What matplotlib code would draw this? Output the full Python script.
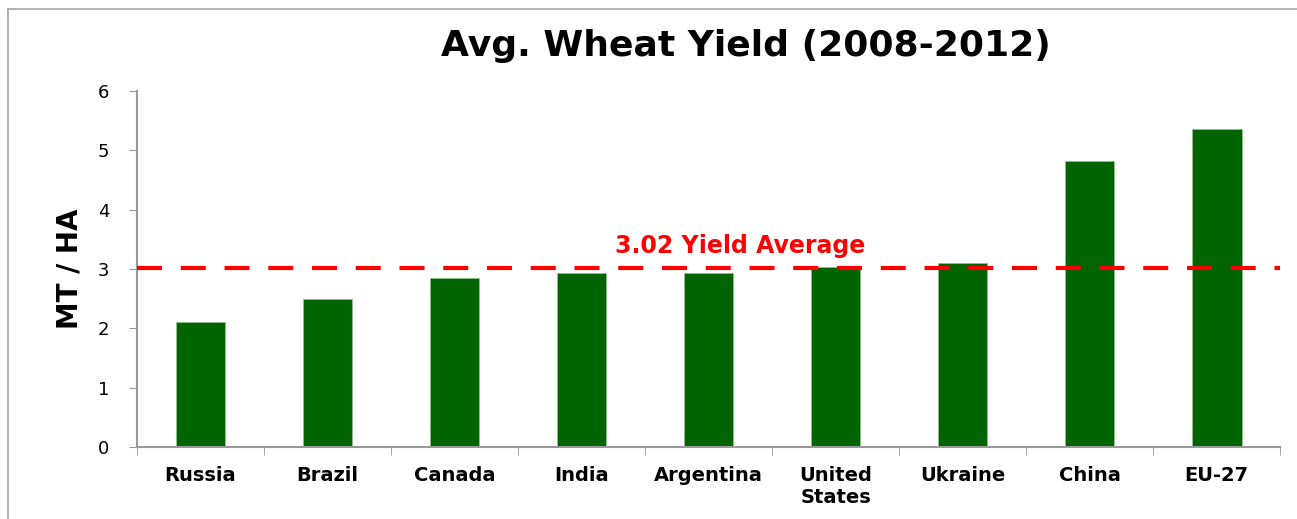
import numpy as np
import matplotlib.pyplot as plt
from matplotlib.lines import Line2D

countries = ["Russia", "Brazil", "Canada", "India", "Argentina",
             "United\nStates", "Ukraine", "China", "EU-27"]
yields = [2.11, 2.50, 2.85, 2.93, 2.93, 3.03, 3.10, 4.82, 5.36]
avg_yield = 3.02
avg_label = "3.02 Yield Average"

plt.rcParams['font.family'] = ['DejaVu Sans']

fig = plt.figure(figsize=(12.97, 5.19), dpi=100)
ax = fig.add_axes([0.1056, 0.1387, 0.8815, 0.686])

x = np.arange(len(countries))
ax.bar(x, yields, width=0.39, color='#006400', edgecolor='#8fbf8f', linewidth=0.6, zorder=2)
ax.axhline(avg_yield, color='#ff0000', lw=3, linestyle=(0, (6, 4.5)), zorder=3)
ax.text(4.25, avg_yield + 0.17, avg_label, color='#ff0000', fontsize=17,
        fontweight='bold', ha='center', va='bottom')

ax.set_xlim(-0.5, len(countries) - 0.5)
ax.set_ylim(0, 6)
ax.set_yticks(range(7))
ax.set_xticks(x)
ax.set_xticklabels(countries, fontsize=14, fontweight='bold', linespacing=1.15)
ax.set_xticks(np.arange(-0.5, len(countries)), minor=True)
ax.tick_params(axis='x', which='major', length=0, pad=14)
ax.tick_params(axis='x', which='minor', length=6, color='#999999', direction='out')
ax.tick_params(axis='y', length=6, color='#999999', labelsize=13, pad=14)

for s in ['top', 'right']:
    ax.spines[s].set_visible(False)
for s in ['left', 'bottom']:
    ax.spines[s].set_color('#999999')
    ax.spines[s].set_linewidth(1.5)

ax.set_ylabel("MT / HA", fontsize=20, fontweight='bold', labelpad=10)
fig.text(0.575, 0.912, "Avg. Wheat Yield (2008-2012)", fontsize=26,
         fontweight='bold', ha='center', va='center')

# outer frame: only top and left edges are visible in the original
fx, fy = 7.5 / 1297, 1 - 8.5 / 519
fig.add_artist(Line2D([fx, 1], [fy, fy], transform=fig.transFigure,
                      color='#a6a6a6', lw=1.2))
fig.add_artist(Line2D([fx, fx], [0, fy], transform=fig.transFigure,
                      color='#a6a6a6', lw=1.2))

fig.savefig("out.png", dpi=100)
